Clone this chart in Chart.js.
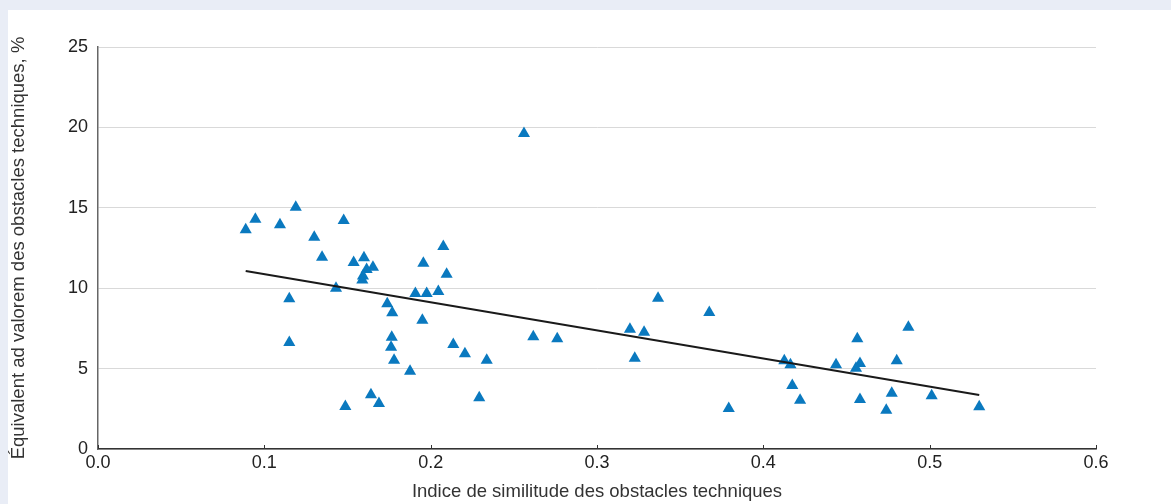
<!DOCTYPE html>
<html>
<head>
<meta charset="utf-8">
<script src="https://cdn.jsdelivr.net/npm/chart.js@4.4.1/dist/chart.umd.min.js"></script>
<style>
  html, body { margin: 0; padding: 0; background: #e9edf6; }
  #wrap { position: absolute; left: 0; top: 0; width: 1171px; height: 504px; }
</style>
</head>
<body>
<div id="wrap"><canvas id="c" width="1171" height="504"></canvas></div>
<script>
// Data
const similarityIndex = [
  0.0888, 0.0946, 0.1094, 0.1189, 0.1300, 0.1347, 0.1150, 0.1150, 0.1477, 0.1431,
  0.1537, 0.1599, 0.1653, 0.1615, 0.1593, 0.1589, 0.1487, 0.1641, 0.1689, 0.1739,
  0.1769, 0.1766, 0.1762, 0.1780, 0.1876, 0.1908, 0.1976, 0.2046, 0.1956, 0.2076,
  0.2096, 0.1950, 0.2136, 0.2206, 0.2337, 0.2292, 0.2561, 0.2617, 0.2761, 0.3198,
  0.3283, 0.3227, 0.3367, 0.3675, 0.3792, 0.4126, 0.4163, 0.4174, 0.4221, 0.4437,
  0.4565, 0.4581, 0.4557, 0.4581, 0.4739, 0.4772, 0.4802, 0.4872, 0.5012, 0.5298
];
const adValoremEquivalent = [
  13.63, 14.29, 13.94, 15.04, 13.17, 11.93, 9.34, 6.62, 14.21, 10.00,
  11.60, 11.89, 11.31, 11.16, 10.76, 10.51, 2.64, 3.37, 2.83, 9.03,
  8.47, 6.95, 6.33, 5.52, 4.84, 9.67, 9.67, 9.79, 11.55, 12.59,
  10.87, 8.01, 6.50, 5.92, 5.52, 3.18, 19.62, 6.98, 6.85, 7.45,
  7.26, 5.65, 9.38, 8.49, 2.52, 5.49, 5.24, 3.95, 3.03, 5.24,
  6.85, 5.32, 5.02, 3.08, 2.41, 3.47, 5.49, 7.57, 3.31, 2.62
];
const trendX = [0.0888, 0.5298];
const trendY = [11.07, 3.36];

const xTitle = 'Indice de similitude des obstacles techniques';
const yTitle = 'Équivalent ad valorem des obstacles techniques, %';

const points = similarityIndex.map((x, i) => ({ x: x, y: adValoremEquivalent[i] }));
const trend = trendX.map((x, i) => ({ x: x, y: trendY[i] }));

const panelPlugin = {
  id: 'panel',
  beforeDraw(chart) {
    const ctx = chart.ctx;
    ctx.save();
    ctx.fillStyle = '#e9edf6';
    ctx.fillRect(0, 0, chart.width, chart.height);
    ctx.fillStyle = '#ffffff';
    ctx.fillRect(8, 10, chart.width - 8, chart.height - 10);
    ctx.restore();
  },
  afterDraw(chart) {
    const xs = chart.scales.x;
    const ctx = chart.ctx;
    ctx.save();
    ctx.strokeStyle = '#333333';
    ctx.lineWidth = 1;
    xs.ticks.forEach(t => {
      const px = Math.round(xs.getPixelForValue(t.value)) + 0.5;
      ctx.beginPath();
      ctx.moveTo(px, xs.top);
      ctx.lineTo(px, xs.top - 4);
      ctx.stroke();
    });
    ctx.restore();
  }
};

const FONT = 'Liberation Sans, Arial, Helvetica, sans-serif';

new Chart(document.getElementById('c'), {
  type: 'scatter',
  data: {
    datasets: [
      {
        label: 'Pays',
        data: points,
        pointStyle: 'triangle',
        pointRadius: 7,
        pointHoverRadius: 7,
        backgroundColor: '#0a79bf',
        borderColor: '#0a79bf',
        borderWidth: 0,
        order: 2
      },
      {
        type: 'line',
        label: 'Tendance',
        data: trend,
        borderColor: '#1a1a1a',
        borderWidth: 2,
        pointRadius: 0,
        fill: false,
        order: 1
      }
    ]
  },
  plugins: [panelPlugin],
  options: {
    responsive: false,
    animation: false,
    devicePixelRatio: 1,
    layout: { padding: { top: 47, right: 75, left: 0, bottom: 0 } },
    plugins: { legend: { display: false }, tooltip: { enabled: false } },
    scales: {
      x: {
        type: 'linear',
        min: 0, max: 0.6,
        ticks: {
          stepSize: 0.1,
          callback: v => v.toFixed(1),
          color: '#222222',
          font: { family: FONT, size: 18 },
          padding: 3,
          maxRotation: 0
        },
        grid: { display: false, drawTicks: false },
        border: { display: true, color: '#333333', width: 1.5 },
        title: {
          display: true,
          text: xTitle,
          color: '#333333',
          font: { family: FONT, size: 18.5 },
          padding: { top: 0, bottom: 1 }
        },
        afterFit(scale) { scale.height = 55; }
      },
      y: {
        min: 0, max: 25,
        ticks: {
          stepSize: 5,
          color: '#222222',
          font: { family: FONT, size: 18 },
          padding: 10
        },
        grid: { color: '#d9d9d9', lineWidth: 1, drawTicks: false },
        border: { display: true, color: '#666666', width: 1.5 },
        title: {
          display: true,
          text: yTitle,
          color: '#333333',
          font: { family: FONT, size: 18.5 },
          padding: { top: 8, bottom: 0 }
        },
        afterFit(scale) { scale.width = 98; }
      }
    }
  }
});
</script>
</body>
</html>
